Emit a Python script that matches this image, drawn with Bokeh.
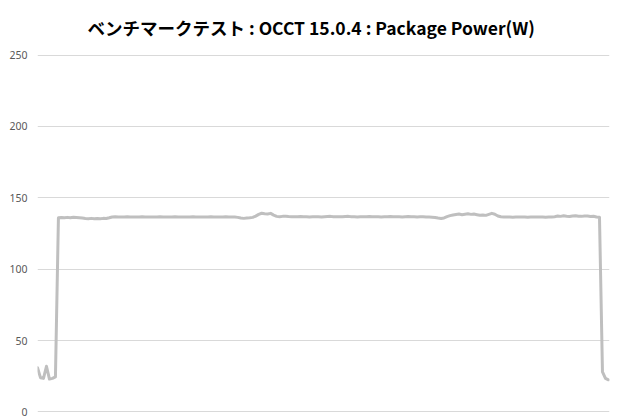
from bokeh.models import ColumnDataSource, Range1d, FixedTicker
from bokeh.plotting import figure
from bokeh.embed import file_html
from bokeh.resources import INLINE

title_text = "ベンチマークテスト : OCCT 15.0.4 : Package Power(W)"
y_ticks = [0, 50, 100, 150, 200, 250]

# package power samples (W) left to right
package_power = [
    31, 24, 23.5, 32, 23, 23.5, 24.5, 136.0,
    136.2, 136.0, 136.3, 136.1, 136.4, 136.2, 136.0, 135.8, 135.5, 135.4,
    135.6, 135.3, 135.5, 135.4, 135.6, 135.5, 136.0,
    136.6, 136.7, 136.6, 136.5, 136.6, 136.7, 136.6, 136.6, 136.5, 136.6,
    136.7, 136.6, 136.6, 136.5, 136.6, 136.6, 136.7, 136.6, 136.5, 136.6,
    136.6, 136.7, 136.6, 136.6, 136.5, 136.6, 136.6, 136.7, 136.6, 136.6,
    136.5, 136.6, 136.6, 136.7, 136.6, 136.5, 136.6, 136.6, 136.7, 136.6,
    136.6, 136.5, 136.3,
    135.8, 135.6, 135.9, 136.0, 136.3, 137.2, 138.4, 139.2, 138.9, 138.7,
    139.1, 137.9, 137.0,
    136.8, 137.0, 137.1, 136.9, 136.8, 136.7, 136.8, 136.9, 136.7, 136.8,
    136.6, 136.7, 136.8, 136.7, 136.6, 136.8, 136.9, 137.0, 136.8, 136.7,
    136.8, 136.7, 136.9, 137.0, 136.8, 136.7, 136.6, 136.8, 136.7, 136.8,
    136.9, 136.8, 136.7, 136.8, 136.6, 136.7, 136.8, 136.9, 136.7, 136.8,
    136.7, 136.6, 136.8, 136.9, 136.7, 136.8, 136.6, 136.7, 136.8, 136.6,
    136.5, 136.4, 136.2,
    135.8, 135.5, 135.9, 136.8, 137.5, 138.0, 138.3, 138.6, 138.2, 138.5,
    138.8, 138.4, 138.6, 138.2, 137.8, 138.0, 137.7, 138.4, 139.1, 138.5,
    137.3, 136.7,
    136.5, 136.6, 136.5, 136.4, 136.5, 136.5, 136.6, 136.5, 136.4, 136.5,
    136.5, 136.6, 136.5, 136.5, 136.4, 136.5, 136.6, 136.8,
    137.2, 137.0, 137.4, 137.1, 136.9, 137.3, 137.5, 137.1, 137.0, 137.3,
    137.2, 136.9, 137.1,
    136.6, 136.4, 28, 23.5, 22.5,
]
sample = list(range(len(package_power)))

src = ColumnDataSource(data=dict(sample=sample, power=package_power))

p = figure(width=620, height=420, output_backend="svg", toolbar_location=None,
           x_range=Range1d(0, 191.35), y_range=Range1d(-0.4, 250.4),
           min_border_left=37, min_border_right=11, min_border_top=54, min_border_bottom=8,
           title=title_text)
p.outline_line_color = None
p.background_fill_color = "white"

# title sits centred on the whole chart, not on the frame
p.title.align = "left"
p.title.offset = 50
p.title.vertical_align = "top"
p.title.text_font = "Noto Sans CJK JP"
p.title.text_font_style = "bold"
p.title.text_font_size = "17.5px"
p.title.text_color = "#000000"
p.title.standoff = 25

p.line(x="sample", y="power", source=src, line_color="#bfbfbf", line_width=3,
       line_join="round", line_cap="round")

p.xaxis.visible = False
p.xgrid.grid_line_color = None
p.ygrid.grid_line_color = "#d9d9d9"
p.ygrid.grid_line_width = 1

p.yaxis.ticker = FixedTicker(ticks=y_ticks)
p.yaxis.axis_line_color = None
p.yaxis.major_tick_line_color = None
p.yaxis.minor_tick_line_color = None
p.yaxis.major_tick_out = 0
p.yaxis.major_label_standoff = 10
p.yaxis.major_label_text_font = "Noto Sans"
p.yaxis.major_label_text_font_size = "10.5px"
p.yaxis.major_label_text_color = "#595959"

open("out.html", "w").write(file_html(p, INLINE))
